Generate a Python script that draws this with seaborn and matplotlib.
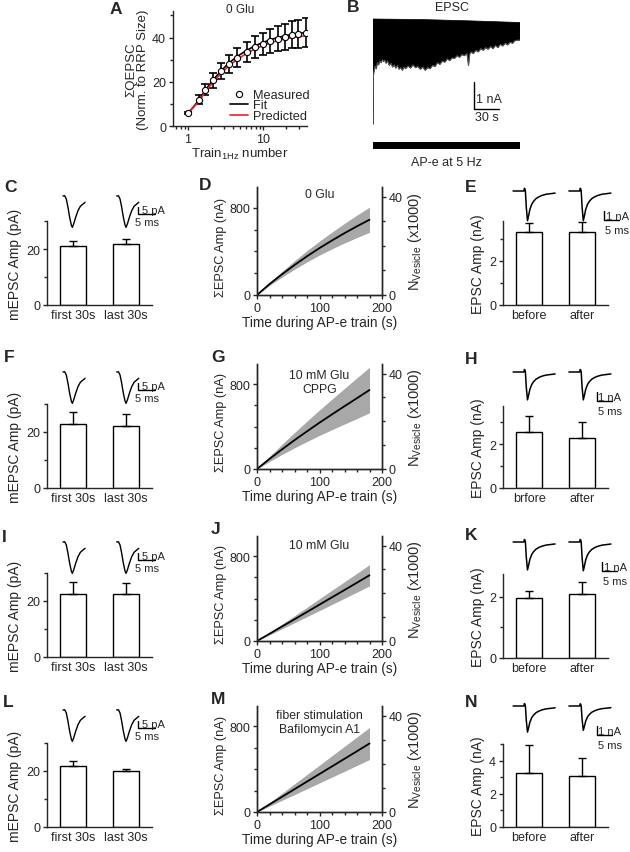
import matplotlib
matplotlib.use('Agg')
import matplotlib.pyplot as plt
import matplotlib.ticker as mticker
import numpy as np
import pandas as pd
import seaborn as sns

sns.set_style('ticks')
plt.rcParams['font.family'] = ['Liberation Sans', 'DejaVu Sans']
plt.rcParams['font.size'] = 9
plt.rcParams['mathtext.fontset'] = 'custom'
plt.rcParams['mathtext.rm'] = 'Liberation Sans'
plt.rcParams['axes.linewidth'] = 1.0
plt.rcParams['xtick.major.width'] = 1.0
plt.rcParams['ytick.major.width'] = 1.0
plt.rcParams['xtick.minor.width'] = 1.0
plt.rcParams['ytick.minor.width'] = 1.0
plt.rcParams['xtick.major.size'] = 3
plt.rcParams['ytick.major.size'] = 3
plt.rcParams['xtick.minor.size'] = 2.5
plt.rcParams['ytick.minor.size'] = 2.5
plt.rcParams['xtick.labelsize'] = 9
plt.rcParams['ytick.labelsize'] = 9
plt.rcParams['xtick.major.pad'] = 2
plt.rcParams['ytick.major.pad'] = 2

# ---- panel A: cumulative QEPSC vs train number
train_n = [1, 1.39, 1.7, 2.15, 2.77, 3.49, 4.54, 6.05, 7.76, 10, 12.5, 15.7, 19.6, 24.2, 29.4, 37.1]
measured = [5.9, 11.8, 16.5, 20.6, 24.7, 27.9, 30.9, 33.5, 35.7, 37.2, 38.5, 39.4, 40.4, 41.2, 41.6, 42.2]
measured_err = [0.5, 2.0, 2.5, 3.2, 3.6, 4.0, 4.3, 4.6, 4.8, 5.0, 5.3, 5.6, 5.9, 6.1, 6.3, 6.5]
fit = [5.8, 11.5, 16.2, 20.8, 25.0, 28.4, 31.5, 34.2, 36.2, 37.8, 39.0, 40.0, 40.8, 41.4, 41.9, 42.2]
predicted = [5.8, 11.0, 15.5, 19.8, 23.8, 27.2, 30.2, 32.8, 34.8, 36.4, 37.6, 38.6, 39.4, 40.0, 40.4, 40.7]

# ---- panel B: EPSC train envelope (s, nA)
b_t_up = [0, 60, 120, 180]
b_v_up = [0.0, -0.02, -0.07, -0.13]
b_t_low = [0, 0.5, 1.2, 2.5, 4, 5.5, 7, 8.5, 10, 11.5, 13, 14.5, 16, 18, 20, 22, 24, 26, 28, 30,
           32, 34, 36, 38, 40, 43, 46, 49, 52, 55, 58, 61, 64, 67, 70, 73, 76, 79, 82, 85,
           88, 91, 94, 97, 100, 103, 106, 109, 112, 115, 117, 118.5, 120, 123, 126, 129, 132, 135, 138, 141,
           144, 147, 150, 153, 156, 159, 162, 165, 168, 171, 174, 180]
b_v_low = [-3.9, -2.1, -1.95, -1.75, -1.85, -1.62, -1.70, -1.55, -1.62, -1.50, -1.58, -1.52, -1.64, -1.56, -1.72, -1.64, -1.78, -1.70, -1.82, -1.72,
           -1.86, -1.80, -1.90, -1.78, -1.84, -1.74, -1.82, -1.70, -1.80, -1.76, -1.86, -1.78, -1.90, -1.80, -1.84, -1.72, -1.76, -1.62, -1.68, -1.56,
           -1.60, -1.48, -1.54, -1.44, -1.46, -1.36, -1.42, -1.32, -1.36, -1.28, -1.72, -1.30, -1.22, -1.28, -1.16, -1.22, -1.10, -1.16, -1.06, -1.12,
           -1.02, -1.10, -0.98, -1.06, -0.94, -1.00, -0.90, -0.96, -0.86, -0.90, -0.80, -0.78]
stim_window = [0, 180]

# ---- bar panels (mean, upper error)
mepsc_labels = ['first 30s', 'last 30s']
c_mean, c_err = [21.1, 21.8], [1.8, 1.8]
f_mean, f_err = [22.8, 22.3], [4.2, 4.2]
i_mean, i_err = [22.5, 22.5], [4.3, 3.9]
l_mean, l_err = [21.8, 20.0], [1.8, 0.7]

e_labels = ['before', 'after']
h_labels = ['brfore', 'after']
e_mean, e_err = [3.3, 3.3], [0.4, 0.45]
h_mean, h_err = [2.57, 2.27], [0.7, 0.73]
k_mean, k_err = [1.98, 2.1], [0.22, 0.4]
n_mean, n_err = [3.25, 3.1], [1.7, 1.08]

# ---- cumulative EPSC amplitude during AP-e train
t_train = [0, 20, 40, 60, 80, 100, 120, 140, 160, 180]
d_mean = [0, 100, 190, 275, 355, 430, 500, 567, 630, 690]
d_sd = [0, 13, 26, 39, 52, 64, 77, 90, 103, 115]
g_mean = [0, 95, 185, 272, 355, 437, 515, 592, 668, 745]
g_sd = [0, 24, 48, 72, 96, 120, 144, 168, 192, 215]
j_mean = [0, 68, 137, 205, 274, 343, 412, 481, 550, 620]
j_sd = [0, 11, 22, 33, 44, 56, 67, 78, 89, 100]
m_mean = [0, 71, 142, 213, 284, 355, 426, 497, 568, 640]
m_sd = [0, 17, 33, 50, 67, 83, 100, 117, 133, 150]

# ---- example traces
mepsc_t = [0, 0.49, 0.98, 1.47, 1.96, 2.45, 2.75, 3.14, 3.73, 4.41, 5.1, 5.9, 6.5]     # ms
mepsc_v = [0, 0.2, -2.1, -8.1, -15.2, -20.7, -22.4, -20.0, -15.2, -10.5, -7.4, -5.7, -4.5]  # pA
epsc_t = [0, 3.6, 3.75, 3.9, 4.1, 4.4, 4.8, 5.2, 5.6, 6.2, 6.8, 7.6, 8.5, 9.6, 11, 12.5, 14]
epsc_v = [0, 0, 0.09, 0.08, 0.0, -0.55, -1.0, -0.82, -0.62, -0.45, -0.35, -0.26, -0.2, -0.15, -0.11, -0.09, -0.07]
e_trace_amp = [3.3, 3.3]
h_trace_amp = [3.1, 3.1]
k_trace_amp = [3.1, 3.2]
n_trace_amp = [2.9, 2.7]

W, H = 630, 853
fig = plt.figure(figsize=(6.3, 8.53), dpi=100)


def box(l, t, r, b):
    return fig.add_axes([l / W, 1 - b / H, (r - l) / W, (b - t) / H])


def ftext(x, y, s, **kw):
    fig.text(x / W, 1 - y / H, s, **kw)


def letter(x, y, s):
    ftext(x, y, s, fontsize=12.5, fontweight='bold', va='center', ha='left')


# ================= A
ax = box(173, 12, 307, 127)
ax.errorbar(train_n, measured, yerr=measured_err, fmt='none', ecolor='black', elinewidth=1.2, capsize=3, capthick=1.2, zorder=2)
sns.lineplot(x=train_n, y=fit, ax=ax, color='black', lw=1.2, label='Fit', zorder=3)
sns.lineplot(x=train_n, y=predicted, ax=ax, color='#e8262a', lw=1.2, label='Predicted', zorder=3)
sns.scatterplot(x=train_n, y=measured, ax=ax, marker='o', s=20, facecolor='white', edgecolor='black', linewidth=0.8, label='Measured', zorder=4)
ax.set_xscale('log')
ax.set_xlim(0.63, 38.5)
ax.set_ylim(0, 52)
ax.set_xticks([1, 10])
ax.set_xticklabels(['1', '10'])
ax.set_yticks([0, 20, 40])
ax.yaxis.set_minor_locator(mticker.FixedLocator([10, 30, 50]))
sns.despine(ax=ax)
ax.set_xlabel('Train$_{\\mathregular{1Hz}}$ number', labelpad=1, fontsize=9.5)
ax.set_ylabel('ΣQEPSC\n(Norm. to RRP Size)', labelpad=2, linespacing=1.0, fontsize=9.5)
h, lab = ax.get_legend_handles_labels()
order = [lab.index('Measured'), lab.index('Fit'), lab.index('Predicted')]
ax.legend([h[i] for i in order], [lab[i] for i in order], loc='lower right', frameon=False,
          handlelength=1.4, handletextpad=0.4, labelspacing=-0.1, borderaxespad=0.0, fontsize=9.2,
          bbox_to_anchor=(1.06, -0.01))
ax.text(0.5, 1.02, '0 Glu', transform=ax.transAxes, ha='center', va='center', fontsize=8.5)
letter(110, 9, 'A')

# ================= B
ax = box(373, 15, 520, 152)
ax.fill(b_t_up + b_t_low[::-1], b_v_up + b_v_low[::-1], color='black', lw=0.5)
ax.plot(b_t_low, b_v_low, color='#555555', lw=0.8)
ax.fill_between(stim_window, -4.56, -4.81, color='black', lw=0)
ax.set_xlim(0, 180)
ax.set_ylim(-(152 - 20) / 27, (20 - 15) / 27)
ax.plot([123.7, 123.7, 153.7], [-2.33, -3.33, -3.33], color='black', lw=1)
ax.axis('off')
ftext(452, 8, 'EPSC', ha='center', va='center', fontsize=9)
ftext(476, 100, '1 nA', ha='left', va='center', fontsize=9)
ftext(475, 118, '30 s', ha='left', va='center', fontsize=9)
ftext(446, 163, 'AP-e at 5 Hz', ha='center', va='center', fontsize=9)
letter(347, 8, 'B')


# ================= bar panels
def bar_panel(l, t, r, b, labels, means, errs, ylim, major, minor, ylabel):
    ax = box(l, t, r, b)
    df = pd.DataFrame({'cond': labels, 'amp': means})
    sns.barplot(data=df, x='cond', y='amp', ax=ax, width=0.5, color='white', saturation=1,
                edgecolor='black', linewidth=1, errorbar=None)
    ax.errorbar([0, 1], means, yerr=[[0, 0], errs], fmt='none', ecolor='black', elinewidth=1,
                capsize=3, capthick=1)
    ax.set_xlim(-0.5, 1.5)
    ax.set_ylim(*ylim)
    ax.set_yticks(major)
    ax.yaxis.set_minor_locator(mticker.FixedLocator(minor))
    ax.tick_params(axis='x', length=0, pad=3)
    ax.set_xlabel('')
    ax.set_ylabel(ylabel, labelpad=3, fontsize=10)
    sns.despine(ax=ax)
    return ax


def mepsc_traces(base):
    ax = box(47, base - 5, 175, base + 40)
    xs, ys = 3.4, 1.4
    ax.set_xlim(0, (175 - 47) / xs)
    ax.set_ylim(-40 / ys, 5 / ys)
    for t0 in (4.7, 20.5):
        ax.plot(np.array(mepsc_t) + t0, mepsc_v, color='black', lw=1)
    ax.plot([26.8, 26.8, 31.8], [-7.9, -12.9, -12.9], color='black', lw=1)
    ax.text(27.9, -12.3, '5 pA', fontsize=8, va='baseline')
    ax.text(25.9, -18.6, '5 ms', fontsize=8, va='center')
    ax.axis('off')


def epsc_traces(base, amps, sb_px):
    ax = box(505, base - 5, 630, base + 42)
    xs, ys = 3.0, 9.0
    ax.set_xlim(0, 125 / xs)
    ax.set_ylim(-42 / ys, 5 / ys)
    for t0, a in zip((2.7, 21.3), amps):
        ax.plot(np.array(epsc_t) + t0, np.array(epsc_v) * a, color='black', lw=1.1)
    sx = (sb_px - 505) / xs
    ax.plot([sx, sx, sx + 5], [-2.2, -3.2, -3.2], color='black', lw=1)
    ax.text(sx + 0.5, -3.1, '1 nA', fontsize=8, va='baseline')
    ax.text(sx + 0.3, -4.3, '5 ms', fontsize=8, va='center')
    ax.axis('off')


mlab = 'mEPSC Amp (pA)'
elab = 'EPSC Amp (nA)'
bar_panel(47, 222, 152, 306, mepsc_labels, c_mean, c_err, (0, 30), [0, 20], [10, 30], mlab)
bar_panel(47, 405, 152, 489, mepsc_labels, f_mean, f_err, (0, 30), [0, 20], [10, 30], mlab)
bar_panel(47, 574, 152, 658, mepsc_labels, i_mean, i_err, (0, 30), [0, 20], [10, 30], mlab)
bar_panel(47, 744, 152, 828, mepsc_labels, l_mean, l_err, (0, 30), [0, 20], [10, 30], mlab)
mepsc_traces(197)
mepsc_traces(373)
mepsc_traces(543)
mepsc_traces(711)

bar_panel(503, 222, 608, 306, e_labels, e_mean, e_err, (0, 3.8), [0, 2], [1, 3], elab)
bar_panel(503, 407, 608, 489, h_labels, h_mean, h_err, (0, 3.73), [0, 2], [1, 3], elab)
bar_panel(503, 575, 608, 659, e_labels, k_mean, k_err, (0, 2.75), [0, 2], [1], elab)
bar_panel(503, 745, 608, 828, e_labels, n_mean, n_err, (0, 5), [0, 2, 4], [1, 3, 5], elab)
epsc_traces(192, e_trace_amp, 604)
epsc_traces(373, h_trace_amp, 597)
epsc_traces(543, k_trace_amp, 602)
epsc_traces(707, n_trace_amp, 597)


# ================= cumulative panels
def line_panel(t, b, mean, sd, note, note_y):
    ax = box(257, t, 382, b)
    lo = np.array(mean) - np.array(sd)
    hi = np.array(mean) + np.array(sd)
    ax.fill_between(t_train, lo, hi, color='#a8a8a8', lw=0)
    sns.lineplot(x=t_train, y=mean, ax=ax, color='black', lw=1.3)
    ax.set_xlim(0, 200)
    ax.set_ylim(0, 990)
    ax.set_xticks([0, 100, 200])
    ax.xaxis.set_minor_locator(mticker.MultipleLocator(20))
    ax.set_yticks([0, 800])
    ax.yaxis.set_minor_locator(mticker.FixedLocator([200, 400, 600]))
    ax.set_xlabel('Time during AP-e train (s)', labelpad=1, fontsize=9.8)
    ax.set_ylabel('ΣEPSC Amp (nA)', labelpad=1, fontsize=9.2)
    ax.yaxis.set_label_coords(-0.24, 0.45)
    ax.spines['top'].set_visible(False)
    ax2 = ax.twinx()
    ax2.set_ylim(0, 44)
    ax2.set_yticks([0, 40])
    ax2.yaxis.set_minor_locator(mticker.FixedLocator([10, 20, 30]))
    ax2.spines['top'].set_visible(False)
    ax2.set_ylabel('N$_{\\mathregular{Vesicle}}$ (x1000)', fontsize=10.5, labelpad=2)
    ax.text(0.5, note_y, note, transform=ax.transAxes, ha='center', va='top', fontsize=8.8, linespacing=1.2)
    return ax


line_panel(188, 296, d_mean, d_sd, '0 Glu', 0.99)
line_panel(365, 470, g_mean, g_sd, '10 mM Glu\nCPPG', 0.95)
line_panel(537, 642, j_mean, j_sd, '10 mM Glu', 0.97)
line_panel(707, 813, m_mean, m_sd, 'fiber stimulation\nBafilomycin A1', 0.97)

letter(4, 188, 'C')
letter(199, 186, 'D')
letter(465, 188, 'E')
letter(4, 358, 'F')
letter(211, 358, 'G')
letter(465, 359, 'H')
letter(2, 537, 'I')
letter(211, 530, 'J')
letter(465, 535, 'K')
letter(3, 703, 'L')
letter(211, 700, 'M')
letter(465, 703, 'N')

fig.savefig('out.png', dpi=100)
